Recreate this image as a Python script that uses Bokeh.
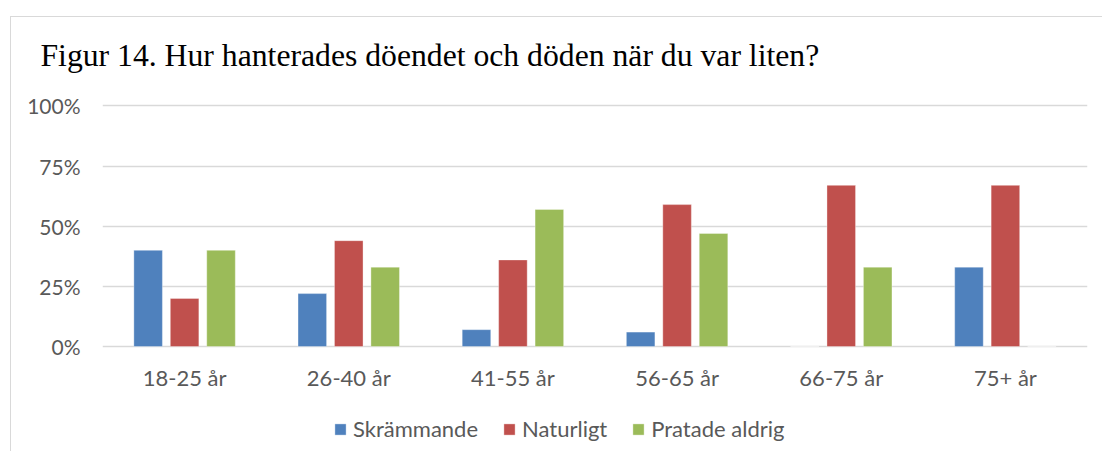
from bokeh.plotting import figure
from bokeh.models import (FactorRange, Range1d, FixedTicker, NumeralTickFormatter,
                          Legend, LegendItem, ColumnDataSource)
from bokeh.core.properties import value
from bokeh.transform import dodge
from bokeh.embed import file_html
from bokeh.resources import INLINE

categories = ["18-25 år", "26-40 år", "41-55 år", "56-65 år", "66-75 år", "75+ år"]
skrammande = [0.40, 0.22, 0.07, 0.06, 0.00, 0.33]
naturligt = [0.20, 0.44, 0.36, 0.59, 0.67, 0.67]
pratade_aldrig = [0.40, 0.33, 0.57, 0.47, 0.33, 0.00]
series_names = ["Skrämmande", "Naturligt", "Pratade aldrig"]
series_colors = ["#4F81BD", "#C0504D", "#9BBB59"]
y_ticks = [0, 0.25, 0.5, 0.75, 1.0]
title_text = "Figur 14. Hur hanterades döendet och döden när du var liten?"

src = ColumnDataSource(data=dict(cat=categories, s0=skrammande, s1=naturligt, s2=pratade_aldrig))

TXT = "#595959"
FONT = "Lato"

p = figure(width=1092, height=435, output_backend="svg", toolbar_location=None,
           x_range=FactorRange(*categories), y_range=Range1d(-0.4407, 1.0478),
           min_border_left=91, min_border_right=16, min_border_top=77, min_border_bottom=0,
           title=title_text)
p.styles = {"position": "relative", "top": "16px", "left": "10px",
            "border-top": "1px solid #d9d9d9", "border-left": "1px solid #d9d9d9"}
p.outline_line_color = None
p.background_fill_color = "white"
p.border_fill_color = "white"

p.title.text_font = "Liberation Serif"
p.title.text_font_size = "31.7px"
p.title.text_font_style = "normal"
p.title.text_color = "black"
p.title.align = "left"
p.title.vertical_align = "top"
p.title.offset = -62
p.title.standoff = 39

offsets = [-0.222, 0.0, 0.222]
renderers = []
for i, (name, col) in enumerate(zip(series_names, series_colors)):
    r = p.vbar(x=dodge("cat", offsets[i], range=p.x_range), top="s%d" % i, width=0.174,
               source=src, fill_color=col, line_color="white", line_alpha=0.35, line_width=1)
    renderers.append(r)

# category labels (x axis) drawn below the 0 line through the categorical scale
p.text(x="cat", y=-0.13, text="cat", source=src, text_align="center", text_baseline="middle",
       text_font=value(FONT), text_font_size="22px", text_color=TXT)
p.xaxis.visible = False

p.xgrid.grid_line_color = None
p.ygrid.grid_line_color = "#d9d9d9"
p.ygrid.grid_line_width = 1.3
p.yaxis.ticker = FixedTicker(ticks=y_ticks)
p.yaxis.formatter = NumeralTickFormatter(format="0%")
p.yaxis.axis_line_color = None
p.yaxis.major_tick_line_color = None
p.yaxis.minor_tick_line_color = None
p.yaxis.major_label_text_font = FONT
p.yaxis.major_label_text_font_size = "21px"
p.yaxis.major_label_text_color = TXT
p.yaxis.major_label_standoff = 16

legend = Legend(items=[LegendItem(label=n, renderers=[r]) for n, r in zip(series_names, renderers)],
                orientation="horizontal", location=(231, 10), padding=0, margin=0,
                spacing=24, label_standoff=6, glyph_width=14, glyph_height=14,
                label_text_font=FONT, label_text_font_size="22px", label_text_color=TXT,
                background_fill_alpha=0, border_line_color=None)
p.add_layout(legend, "center")

open("out.html", "w").write(file_html(p, INLINE))
